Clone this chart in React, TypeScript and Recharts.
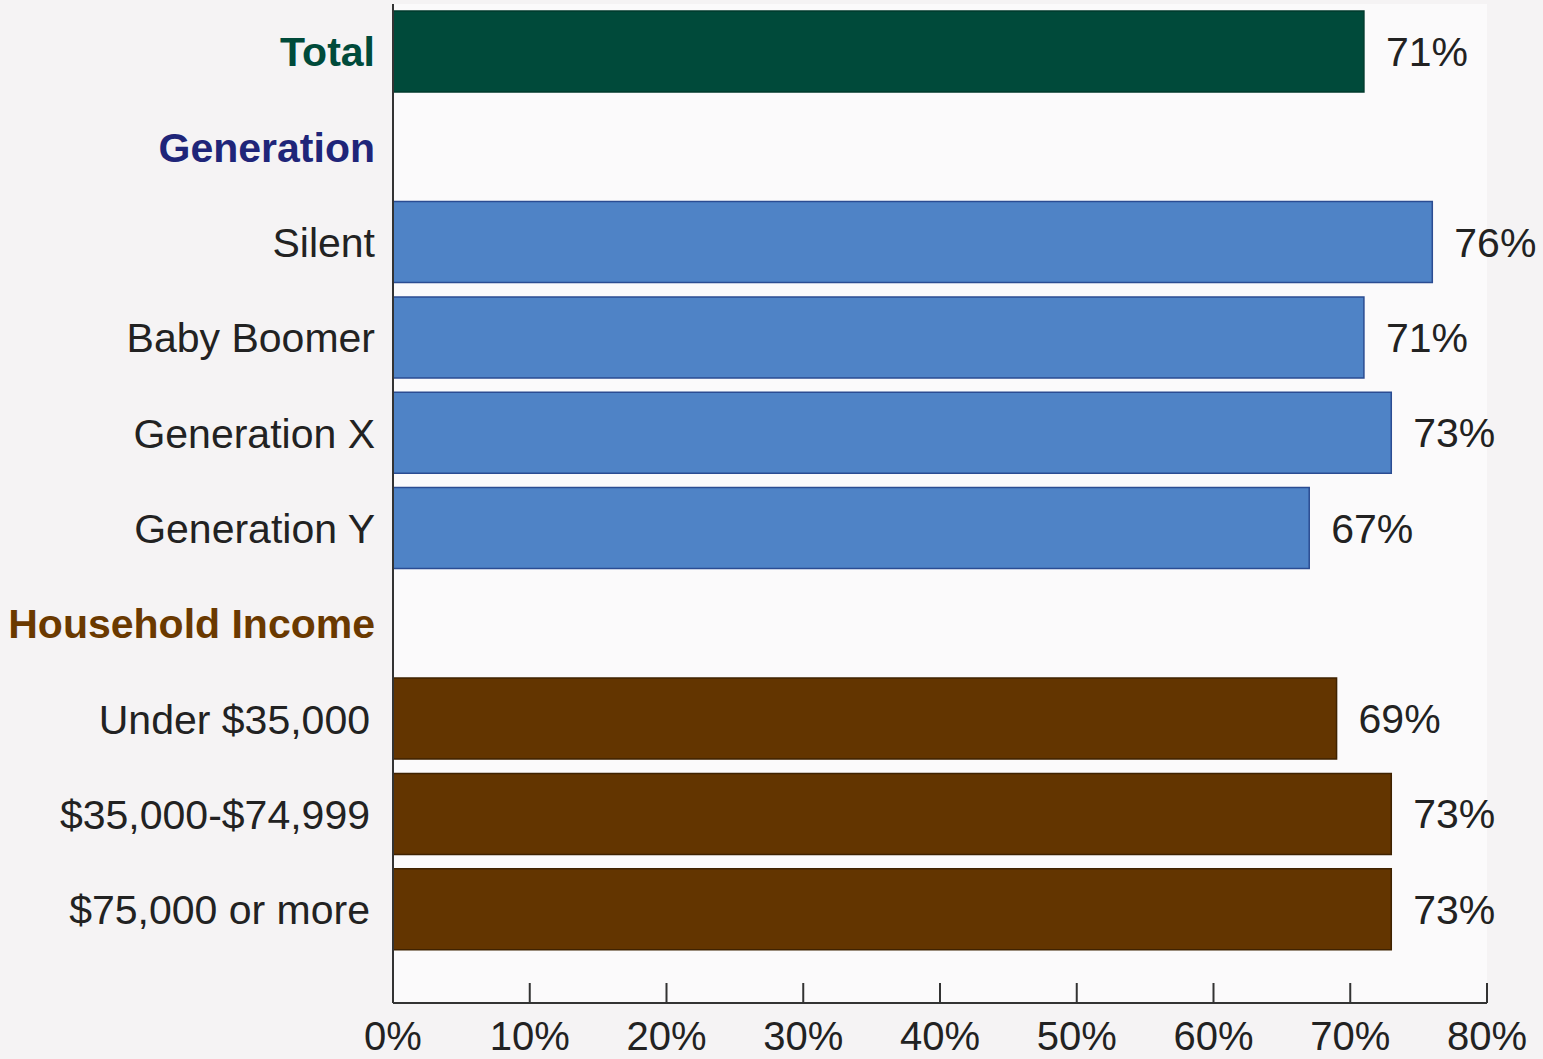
import React from "react";
import { BarChart, Bar, XAxis, YAxis, CartesianGrid, Cell, LabelList } from "recharts";

// rows, top to bottom (header rows have no value)
const labels = [
  "Total",
  "Generation",
  "Silent",
  "Baby Boomer",
  "Generation X",
  "Generation Y",
  "Household Income",
  "Under $35,000",
  "$35,000-$74,999",
  "$75,000 or more",
];
const groups = ["total", "genHeader", "gen", "gen", "gen", "gen", "incHeader", "inc", "inc", "inc"];
const values: (number | null)[] = [71, null, 76, 71, 73, 67, null, 69, 73, 73];
const xTicks = [0, 10, 20, 30, 40, 50, 60, 70, 80];

const data = labels.map((name, i) => ({ name, group: groups[i], value: values[i] }));

const FONT = '"Liberation Sans", Arial, Helvetica, sans-serif';

// bar fill / border per group
const fills: Record<string, string> = { total: "#004a3a", gen: "#4f83c6", inc: "#633500" };
const strokes: Record<string, string> = { total: "#003a2d", gen: "#2b4c92", inc: "#3f2200" };

// y label colours
const labelColor: Record<string, string> = {
  total: "#004a3a",
  genHeader: "#1f2579",
  incHeader: "#6a3900",
  gen: "#222222",
  inc: "#222222",
};

const YTick = (props: any) => {
  const { x, y, payload } = props;
  const row = data.find((d) => d.name === payload.value);
  const g = row ? row.group : "gen";
  const bold = g === "total" || g === "genHeader" || g === "incHeader";
  const shift = g === "inc" ? -5 : 0;
  return (
    <text
      x={x + shift}
      y={y}
      dy="0.36em"
      textAnchor="end"
      fontFamily={FONT}
      fontSize={41}
      fontWeight={bold ? 700 : 400}
      fill={labelColor[g]}
    >
      {payload.value}
    </text>
  );
};

export default function App() {
  return (
    <div style={{ position: "absolute", left: 0, top: 0, width: 1543, height: 1059, background: "#f5f3f4", overflow: "hidden" }}>
      <BarChart
        width={1543}
        height={1059}
        data={data}
        layout="vertical"
        margin={{ top: 4, right: 56, bottom: 0, left: 0 }}
        barSize={81}
      >
        <CartesianGrid horizontal={false} vertical={false} fill="#fbfafb" />
        <XAxis
          type="number"
          domain={[0, 80]}
          ticks={xTicks}
          tickFormatter={(v: number) => `${v}%`}
          axisLine={{ stroke: "#333", strokeWidth: 2 }}
          tickLine={{ stroke: "#333", strokeWidth: 2 }}
          tickSize={-20}
          tickMargin={39}
          tick={{ fontSize: 40, fill: "#222", fontFamily: FONT }}
          height={56}
        />
        <YAxis
          type="category"
          dataKey="name"
          width={393}
          tick={<YTick />}
          tickLine={false}
          tickMargin={12}
          axisLine={{ stroke: "#333", strokeWidth: 2 }}
          padding={{ top: 0, bottom: 46 }}
          interval={0}
        />
        <Bar dataKey="value" isAnimationActive={false} strokeWidth={1.5}>
          {data.map((d, i) => (
            <Cell key={i} fill={fills[d.group] || "none"} stroke={strokes[d.group] || "none"} />
          ))}
          <LabelList
            dataKey="value"
            position="right"
            offset={22}
            formatter={(v: any) => (v == null ? "" : `${v}%`)}
            style={{ fontSize: 41, fill: "#222", fontFamily: FONT }}
          />
        </Bar>
      </BarChart>
    </div>
  );
}
